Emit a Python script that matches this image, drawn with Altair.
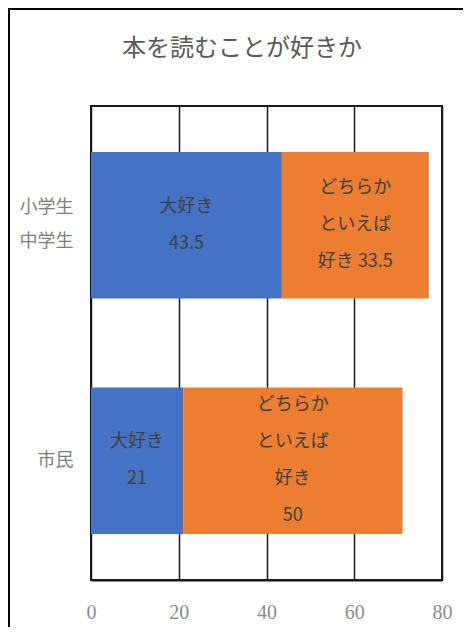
import altair as alt
import pandas as pd

title_text = "本を読むことが好きか"
groups = ["小学生|中学生", "市民"]
segments = ["大好き", "どちらかといえば好き"]
values_daisuki = [43.5, 21]
values_dochira = [33.5, 50]
labels_daisuki = ["大好き\n43.5", "大好き\n21"]
labels_dochira = ["どちらか\nといえば\n好き 33.5", "どちらか\nといえば\n好き\n50"]
colors = ["#4472C4", "#ED7D31"]
x_ticks = [0, 20, 40, 60, 80]

JP = "Noto Sans CJK JP"
SERIF = "Liberation Serif"
LINE_H = 37
Y_LINE_H = 34
W, H = 351, 474
P_IN, P_OUT = 0.377, 0.195
HALF_BAND = (H / (2 - P_IN + 2 * P_OUT)) * (1 - P_IN) / 2

rows = []
for i, g in enumerate(groups):
    start = 0.0
    for k, (seg, vals, labs) in enumerate(
        [(segments[0], values_daisuki, labels_daisuki), (segments[1], values_dochira, labels_dochira)]
    ):
        v = vals[i]
        rows.append(dict(group=g, segment=seg, start=start, end=start + v,
                         label=labs[i], order=k))
        start += v
df = pd.DataFrame(rows)

y_enc = alt.Y(
    "group:N", sort=groups, title=None,
    scale=alt.Scale(paddingInner=P_IN, paddingOuter=P_OUT),
    axis=alt.Axis(labelExpr="split(datum.label, '|')", domain=False, ticks=False,
                  labelPadding=18, labelFontSize=18, labelColor="#7f7f7f",
                  labelFont=JP, labelLineHeight=Y_LINE_H,
                  labelOffset={"condition": {"test": "indexof(datum.value, '|') >= 0",
                                             "value": -Y_LINE_H / 2},
                               "value": 0}),
)
x_enc = alt.X(
    "start:Q", title=None,
    scale=alt.Scale(domain=[0, 80], nice=False),
    axis=alt.Axis(values=x_ticks, grid=True, gridColor="#1a1a1a", gridWidth=1.5,
                  domainColor="#1a1a1a", domainWidth=2, ticks=False, labelPadding=22,
                  labelFontSize=20, labelColor="#8c8c8c", labelFont=SERIF,
                  labelFlush=False),
)

bars = alt.Chart(df).mark_bar().encode(
    x=x_enc, x2="end:Q", y=y_enc,
    color=alt.Color("segment:N", scale=alt.Scale(domain=segments, range=colors), legend=None),
    order="order:Q",
)

text = alt.Chart(df).transform_calculate(
    mid="(datum.start + datum.end) / 2",
    shift=f"{HALF_BAND} - (length(split(datum.label, '\\n')) - 1) * {LINE_H} / 2",
).mark_text(
    lineBreak="\n", fontSize=18, color="#404040", lineHeight=LINE_H, font=JP, baseline="middle"
).encode(
    x="mid:Q", y=alt.Y("group:N", sort=groups),
    yOffset=alt.YOffset("shift:Q", scale=None),
    text="label:N",
)

title_df = pd.DataFrame({"t": [title_text]})
title = alt.Chart(title_df).mark_text(
    fontSize=24, color="#595959", font=JP, baseline="middle", align="center"
).encode(x=alt.value(151), y=alt.value(-57), text="t:N")

frame_df = pd.DataFrame({"k": [0]})
left_rule = alt.Chart(frame_df).mark_rule(color="black", strokeWidth=2).encode(
    x=alt.value(-82), y=alt.value(-97), y2=alt.value(540))
top_rule = alt.Chart(frame_df).mark_rule(color="black", strokeWidth=2).encode(
    x=alt.value(-83), x2=alt.value(372), y=alt.value(-97))

chart = alt.layer(bars, text, title, left_rule, top_rule).properties(
    width=W, height=H,
    autosize="none",
    padding={"left": 83, "top": 98, "right": 22, "bottom": 47},
    background="white",
).configure_view(stroke="#1a1a1a", strokeWidth=2)

chart.save("out.html", embed_options={"renderer": "svg", "actions": False})
